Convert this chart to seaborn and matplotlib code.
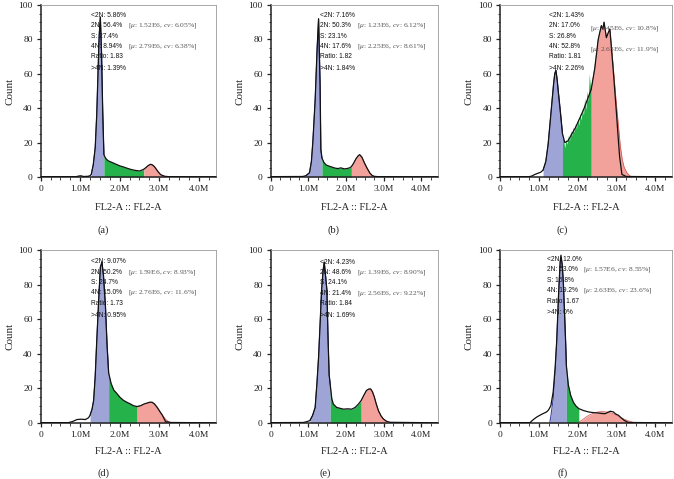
import numpy as np
import pandas as pd
import matplotlib
matplotlib.use("Agg")
import matplotlib.pyplot as plt
import seaborn as sns
from matplotlib.ticker import MultipleLocator

# ---------------- data (x in millions of FL2-A units, y = count) ----------------
a_x = [0, 0.9, 0.97, 1.02, 1.08, 1.2, 1.25, 1.28, 1.33, 1.38, 1.42, 1.45, 1.48, 1.51, 1.54, 1.57, 1.60, 1.64, 1.7, 1.8,
       1.9, 2.0, 2.1, 2.2, 2.3, 2.4, 2.5, 2.55, 2.61, 2.66, 2.72, 2.78, 2.83, 2.88, 2.93, 2.98, 3.04, 3.14, 3.25, 4.45]
a_y = [0.2, 0.2, 0.6, 0.7, 0.3, 0.4, 0.8, 1.5, 7, 17, 37, 60, 82, 93, 72, 38, 13, 11, 9.5, 8.5,
       7.5, 6.5, 5.8, 5.0, 4.3, 3.8, 3.5, 3.9, 4.5, 5.4, 6.6, 7.4, 7.0, 6.0, 4.4, 2.8, 1.3, 0.4, 0.2, 0.1]
a_bounds = [1.28, 1.60, 2.61, 3.14]

b_x = [0, 0.85, 0.94, 1.03, 1.08, 1.12, 1.18, 1.23, 1.27, 1.31, 1.33, 1.36, 1.41, 1.47, 1.55, 1.62, 1.70, 1.78,
       1.86, 1.96, 2.04, 2.09, 2.14, 2.2, 2.26, 2.32, 2.36, 2.42, 2.49, 2.56, 2.63, 2.69, 2.74, 2.85, 4.45]
b_y = [0.2, 0.3, 0.8, 2.5, 9, 21, 45, 74, 92, 54, 16, 11, 8.5, 7, 6.3, 5.8, 5.2, 4.9,
       5.3, 4.7, 5.0, 5.3, 6.0, 8.0, 10.5, 12.3, 13, 11.5, 8, 5, 2.3, 0.9, 0.4, 0.2, 0.1]
b_bounds = [0.94, 1.36, 2.14, 2.74]

c_x = [0, 0.75, 0.81, 0.9, 0.98, 1.05, 1.11, 1.18, 1.24, 1.32, 1.38, 1.41, 1.44, 1.47, 1.5, 1.55, 1.61, 1.67, 1.75,
       1.85, 1.95, 2.05, 2.15, 2.25, 2.35, 2.44, 2.53, 2.61, 2.65, 2.68, 2.74, 2.79, 2.83, 2.91, 3.0, 3.04, 3.08,
       3.14, 3.25, 4.45]
c_y = [0.2, 0.2, 0.5, 1.5, 2.2, 2.8, 4, 9, 19, 39, 54, 60, 62, 57, 50, 39, 25, 20, 21,
       25, 29, 34, 39, 45, 51, 63, 80, 88, 86, 90, 81, 84, 86, 64, 37, 24, 12,
       1.5, 0.3, 0.1]
c_bounds = [1.11, 1.61, 2.35, 3.39]
c_green_x = [1.61, 1.64, 1.67, 1.70, 1.73, 1.76, 1.79, 1.82, 1.85, 1.88, 1.91, 1.94, 1.97, 2.00, 2.03, 2.06,
             2.09, 2.12, 2.15, 2.18, 2.21, 2.24, 2.27, 2.30, 2.33, 2.35]
c_green_y = [25, 21, 17, 22, 19, 24, 21, 27, 24, 29, 26, 31, 28, 34, 30, 37,
             33, 40, 36, 46, 39, 50, 44, 60, 52, 52]
c_red_x = [2.35, 2.44, 2.53, 2.61, 2.65, 2.68, 2.74, 2.79, 2.83, 2.91, 3.0, 3.05, 3.1, 3.15, 3.2, 3.27, 3.33, 3.39]
c_red_y = [51, 63, 80, 88, 86, 90, 81, 84, 86, 66, 42, 30, 18, 10, 5.5, 2.5, 1, 0]

d_x = [0, 0.7, 0.8, 0.92, 1.02, 1.13, 1.21, 1.25, 1.30, 1.34, 1.38, 1.42, 1.47, 1.51, 1.55, 1.59, 1.64, 1.68, 1.72,
       1.78, 1.85, 1.93, 2.0, 2.1, 2.18, 2.27, 2.35, 2.44, 2.53, 2.62, 2.69, 2.76, 2.82, 2.88, 2.95, 3.02, 3.08,
       3.16, 3.3, 4.45]
d_y = [0.2, 0.2, 0.8, 2.0, 2.2, 2.0, 3, 4.5, 8, 13, 27, 48, 72, 90, 93, 85, 67, 45, 29,
       23, 19, 17, 15, 13, 12, 11, 10, 9.5, 10, 11, 11.5, 12, 12, 11, 9, 6.5, 4.5,
       0.8, 0.3, 0.1]
d_bounds = [1.25, 1.72, 2.44, 3.3]
d_red_x = [2.44, 2.53, 2.62, 2.69, 2.76, 2.82, 2.88, 2.95, 3.02, 3.08, 3.16, 3.22, 3.3]
d_red_y = [9.5, 10, 11, 11.5, 12, 12, 11, 9, 6.5, 4.5, 2.2, 1.0, 0]

e_x = [0, 0.87, 0.96, 1.04, 1.11, 1.18, 1.23, 1.27, 1.31, 1.35, 1.39, 1.42, 1.46, 1.49, 1.52, 1.55, 1.58, 1.62,
       1.66, 1.75, 1.84, 1.93, 2.04, 2.15, 2.24, 2.33, 2.40, 2.47, 2.54, 2.60, 2.65, 2.70, 2.75, 2.8, 2.86, 2.93,
       2.99, 3.07, 3.17, 4.45]
e_y = [0.2, 0.3, 0.8, 1.4, 4.3, 9, 24, 38, 57, 77, 88, 93, 84, 77, 50, 28, 22, 14,
       11, 9, 8.5, 8, 8.2, 8, 9, 11, 13, 16, 18.8, 19.6, 19.7, 18, 15, 11, 7, 4,
       2.3, 1, 0.4, 0.1]
e_bounds = [1.04, 1.58, 2.40, 3.07]

f_x = [0, 0.77, 0.86, 0.95, 1.07, 1.2, 1.25, 1.31, 1.37, 1.42, 1.46, 1.51, 1.55, 1.57, 1.6, 1.63, 1.66, 1.69,
       1.71, 1.76, 1.82, 1.89, 1.95, 2.03, 2.15, 2.28, 2.4, 2.53, 2.62, 2.71, 2.78, 2.84, 2.92, 2.98, 3.05, 3.12,
       3.2, 3.3, 4.45]
f_y = [0.2, 0.2, 2, 3.5, 5, 6.4, 7.5, 10, 18, 32, 47, 75, 93, 97, 92, 82, 65, 47,
       33, 22, 16, 12, 10, 8.3, 7.2, 6.4, 6.0, 5.8, 5.5, 5.4, 6.2, 6.8, 6.4, 5.2, 4.5, 3,
       1.5, 0.3, 0.1]
f_bounds = [1.28, 1.71, 2.03, 3.48]
f_blue_x = [1.28, 1.31, 1.37, 1.42, 1.46, 1.51, 1.55, 1.57, 1.6, 1.63, 1.66, 1.69, 1.71]
f_blue_y = [0, 4, 14, 30, 47, 75, 93, 96, 92, 82, 65, 47, 33]
f_red_x = [2.03, 2.1, 2.2, 2.3, 2.4, 2.5, 2.6, 2.7, 2.8, 2.9, 3.0, 3.1, 3.2, 3.3, 3.4, 3.48]
f_red_y = [0.5, 1.5, 3.2, 4.6, 5.6, 6.3, 6.6, 6.5, 6.2, 5.5, 4.5, 3.3, 2.2, 1.3, 0.6, 0]

panel_names = ["(a)", "(b)", "(c)", "(d)", "(e)", "(f)"]
stats_a = ["<2N: 5.86%", "2N: 56.4%", "S: 27.4%", "4N: 8.94%", "Ratio: 1.83", ">4N: 1.39%"]
stats_b = ["<2N: 7.16%", "2N: 50.3%", "S: 23.1%", "4N: 17.6%", "Ratio: 1.82", ">4N: 1.84%"]
stats_c = ["<2N: 1.43%", "2N: 17.0%", "S: 26.8%", "4N: 52.8%", "Ratio: 1.81", ">4N: 2.26%"]
stats_d = ["<2N: 9.07%", "2N: 50.2%", "S: 24.7%", "4N: 15.0%", "Ratio: 1.73", ">4N: 0.95%"]
stats_e = ["<2N: 4.23%", "2N: 48.6%", "S: 24.1%", "4N: 21.4%", "Ratio: 1.84", ">4N: 1.69%"]
stats_f = ["<2N: 12.0%", "2N: 53.0%", "S: 15.8%", "4N: 19.2%", "Ratio: 1.67", ">4N: 0%"]
fit_a = [("1.52E6", "6.05%"), ("2.79E6", "6.38%")]
fit_b = [("1.23E6", "6.12%"), ("2.25E6", "8.61%")]
fit_c = [("1.45E6", "10.8%"), ("2.63E6", "11.9%")]
fit_d = [("1.59E6", "8.93%"), ("2.76E6", "11.6%")]
fit_e = [("1.39E6", "8.90%"), ("2.56E6", "9.22%")]
fit_f = [("1.57E6", "8.55%"), ("2.63E6", "23.6%")]

x_ticks = [0, 1, 2, 3, 4]
x_tick_labels = ["0", "1.0M", "2.0M", "3.0M", "4.0M"]
y_ticks = [0, 20, 40, 60, 80, 100]

# ---------------- style ----------------
sns.set_style("ticks")
plt.rcParams["font.family"] = ["Liberation Serif", "DejaVu Serif"]
plt.rcParams["mathtext.fontset"] = "custom"
plt.rcParams["mathtext.rm"] = "Liberation Serif"
plt.rcParams["mathtext.it"] = "Liberation Serif:italic"

BLUE = "#9ea4d6"
BLUE_EDGE = "#2f3593"
GREEN = "#25b24b"
RED = "#f3a19b"
RED_EDGE = "#c9534f"

W, H = 674, 479
fig = plt.figure(figsize=(W / 100, H / 100), dpi=100)

# pixel boxes (left, top, right, bottom)
boxes = [(40.7, 5, 215.7, 177), (270.7, 5, 437.7, 177), (500, 5, 672, 177),
         (40.7, 250, 215.7, 423), (270.7, 250, 437.7, 423), (500, 250, 672, 423)]
label_x = [103, 333, 562, 103, 325, 563]
xlabel_y = [207, 207, 207, 452, 452, 452]
plabel_y = [230, 230, 230, 473, 473, 473]
text_x = [1.27, 1.31, 1.27, 1.27, 1.31, 1.22]
text_y0 = [93.8, 93.8, 93.8, 93.2, 93.0, 94.5]
br_x = [2.21, 2.29, 2.32, 2.20, 2.28, 2.13]
br_dy = [0, 0, -1.5, 0, 0, 0]

panels = [
    dict(x=a_x, y=a_y, bounds=a_bounds, stats=stats_a, fit=fit_a),
    dict(x=b_x, y=b_y, bounds=b_bounds, stats=stats_b, fit=fit_b),
    dict(x=c_x, y=c_y, bounds=c_bounds, stats=stats_c, fit=fit_c,
         green=(c_green_x, c_green_y), red=(c_red_x, c_red_y)),
    dict(x=d_x, y=d_y, bounds=d_bounds, stats=stats_d, fit=fit_d, red=(d_red_x, d_red_y)),
    dict(x=e_x, y=e_y, bounds=e_bounds, stats=stats_e, fit=fit_e),
    dict(x=f_x, y=f_y, bounds=f_bounds, stats=stats_f, fit=fit_f,
         blue=(f_blue_x, f_blue_y), red=(f_red_x, f_red_y)),
]

XMAX = 4.43
for i, p in enumerate(panels):
    l, t, r, b = boxes[i]
    ax = fig.add_axes([l / W, 1 - b / H, (r - l) / W, (b - t) / H])
    x = np.array(p["x"], dtype=float)
    y = np.array(p["y"], dtype=float)
    bd = p["bounds"]

    def under(lo, hi):
        m = (x >= lo - 1e-9) & (x <= hi + 1e-9)
        return x[m], y[m]

    # blue (2N)
    if "blue" in p:
        bx, by = p["blue"]
    else:
        bx, by = under(bd[0], bd[1])
    ax.fill_between(bx, 0, by, color=BLUE, lw=0, zorder=2)
    ax.plot(bx, by, color=BLUE_EDGE, lw=0.7, zorder=3)
    # green (S)
    if "green" in p:
        gx, gy = p["green"]
    else:
        gx, gy = under(bd[1], bd[2])
    ax.fill_between(gx, 0, gy, color=GREEN, lw=0, zorder=2)
    # red (4N)
    if "red" in p:
        rx, ry = p["red"]
    else:
        rx, ry = under(bd[2], bd[3])
    ax.fill_between(rx, 0, ry, color=RED, lw=0, zorder=2)
    ax.plot(rx, ry, color=RED_EDGE, lw=0.5, zorder=3)

    df = pd.DataFrame({"FL2": x, "Count": y})
    sns.lineplot(data=df, x="FL2", y="Count", ax=ax, color="#111111", lw=0.9,
                 estimator=None, sort=False, zorder=4)

    ax.set_xlim(0, XMAX)
    ax.set_ylim(0, 100)
    ax.set_xticks(x_ticks)
    ax.set_xticklabels(x_tick_labels)
    ax.set_yticks(y_ticks)
    ax.xaxis.set_minor_locator(MultipleLocator(0.25))
    ax.yaxis.set_minor_locator(MultipleLocator(5))
    ax.tick_params(which="major", length=3.2, width=0.9, labelsize=6.8, pad=2.5, colors="#222222")
    ax.tick_params(which="minor", length=1.8, width=0.6, colors="#222222")
    for s in ["left", "bottom"]:
        ax.spines[s].set_linewidth(1.1)
        ax.spines[s].set_color("#222222")
    for s in ["top", "right"]:
        ax.spines[s].set_visible(True)
        ax.spines[s].set_linewidth(0.6)
        ax.spines[s].set_color("#9a9a9a")
    ax.set_xlabel("")
    ax.set_ylabel("Count", fontsize=8, labelpad=3)

    # statistics text
    dy = 6.0
    ys = [text_y0[i] - k * dy for k in range(5)] + [text_y0[i] - 4 * dy - 6.8]
    for k, s in enumerate(p["stats"]):
        ax.text(text_x[i], ys[k], s, fontsize=4.8, family=["Liberation Sans", "DejaVu Sans"],
                va="center", ha="left", color="#111111", zorder=10)
    for k, (mu, cv) in enumerate(p["fit"]):
        yy = ys[1 + 2 * k] + br_dy[i]
        ax.text(br_x[i], yy, "[$\\mu$: " + mu + ", $cv$: " + cv + "]", fontsize=5.4,
                va="center", ha="left", color="#555555", zorder=10)

    cx = (l + r) / 2
    fig.text(cx / W, 1 - xlabel_y[i] / H, "FL2-A :: FL2-A", fontsize=7.5, ha="center", va="center",
             color="#222222")
    fig.text(label_x[i] / W, 1 - plabel_y[i] / H, panel_names[i], fontsize=7.5, ha="center",
             va="center", color="#222222")

fig.savefig("out.png", dpi=100)
